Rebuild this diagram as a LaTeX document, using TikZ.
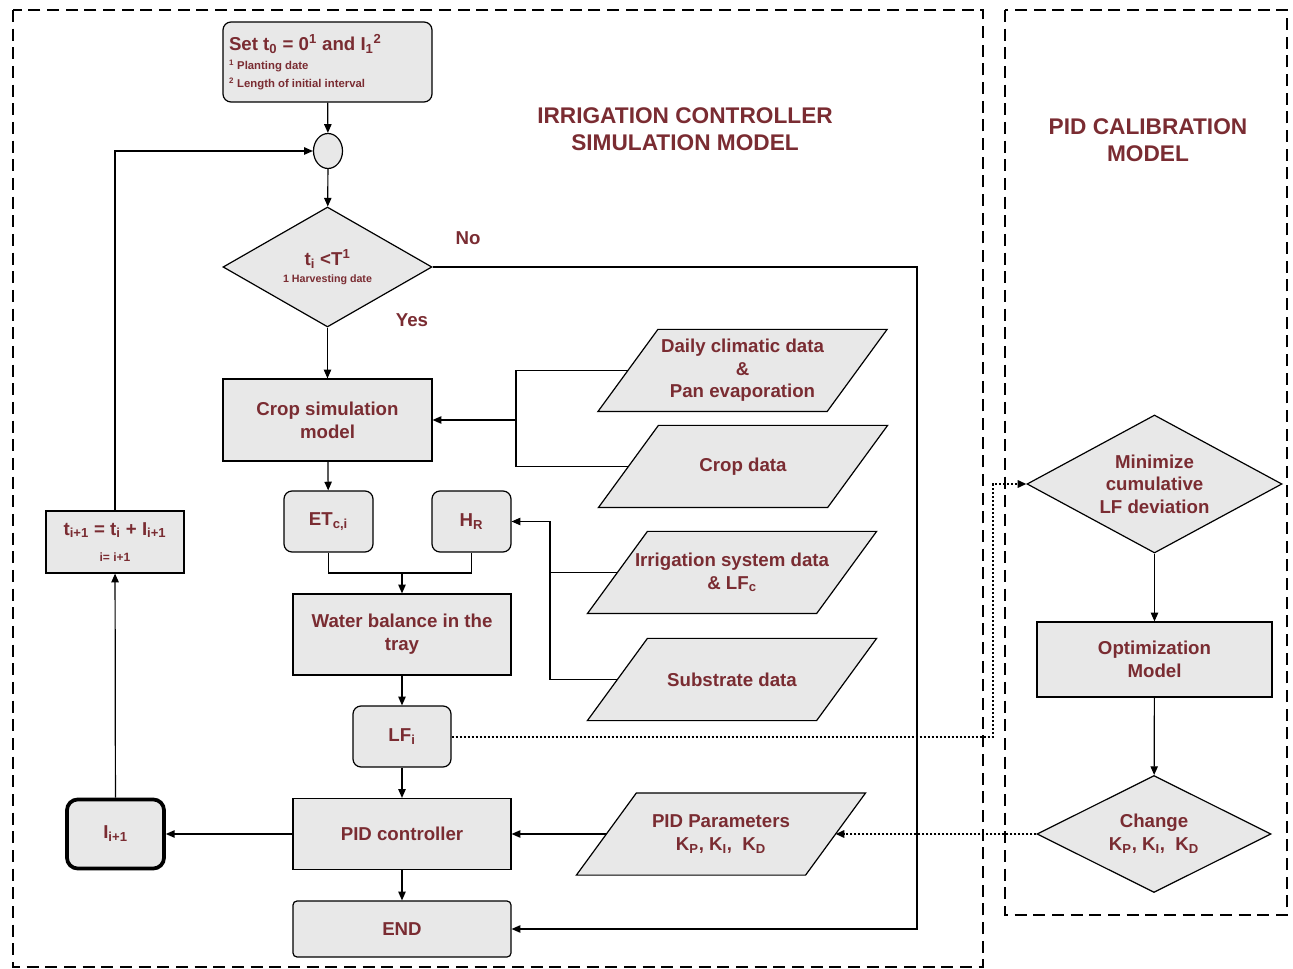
\documentclass[tikz,border=0pt]{standalone}
\usepackage{fontspec}
\setmainfont{Liberation Sans}
\usetikzlibrary{shapes.geometric,arrows.meta,backgrounds}
\definecolor{txtred}{RGB}{122,44,50}
\definecolor{boxgray}{RGB}{232,232,232}
\tikzset{
  sz/.style 2 args={minimum width=#1*0.75pt,minimum height=#2*0.75pt},
  base/.style={draw,fill=boxgray,text=txtred,font=\bfseries\fontsize{14}{17}\selectfont,align=center,inner sep=1pt,line width=0.9pt},
  rbox/.style={base,rectangle,rounded corners=6pt},
  sbox/.style={base,rectangle},
  dec/.style={base,diamond,inner sep=0pt},
  data/.style={base,draw=none,fill=none,rectangle,sz={228}{81}},
  dataframe/.style={draw,fill=boxgray,line width=0.9pt},
  ttl/.style={text=txtred,font=\bfseries\fontsize{17}{20.5}\selectfont,align=center},
  lbl/.style={text=txtred,font=\bfseries\fontsize{14}{16}\selectfont},
  arr/.style={line width=0.9pt,-{Triangle[length=6.5pt,width=5.5pt]}},
  dotarr/.style={arr,line width=1.5pt,dash pattern=on 1.5pt off 1.5pt},
  frame/.style={line width=2pt,dash pattern=on 9pt off 5pt}
}
\begin{document}
\begin{tikzpicture}[x=0.75pt,y=-0.75pt]
\useasboundingbox (0,0) rectangle (1293,969);
\draw[frame] (13,10) rectangle (983,967);
\draw[frame] (1005,10) rectangle (1287,915);
\node[ttl] (ttlsim) at (685,129) {IRRIGATION CONTROLLER\\SIMULATION MODEL};
\node[ttl] (ttlpid) at (1148,140) {PID CALIBRATION\\MODEL};

\node[rbox,sz={209}{80},text width=197*0.75pt,align=flush left] (start) at (327.5,62)
  {Set t\textsubscript{0} = 0\textsuperscript{1} and I\textsubscript{1}\textsuperscript{2}\\[-3pt]
   {\fontsize{8.5}{10}\selectfont\textsuperscript{1} Planting date}\\[-3.5pt]
   {\fontsize{8.5}{10}\selectfont\textsuperscript{2} Length of initial interval}};
\node[draw,ellipse,fill=boxgray,line width=0.9pt,inner sep=0pt,sz={29}{35}] (join) at (328,151) {};
\node[dec,sz={209}{120},shape aspect=1.74] (check) at (327.5,267) {t\textsubscript{i} <T\textsuperscript{1}\\[-4pt]{\fontsize{8}{9.5}\selectfont 1 Harvesting date}};
\node[lbl] (no) at (468,238) {No};
\node[lbl] (yes) at (412,320) {Yes};
\node[sbox,sz={209}{82}] (cropsim) at (327.5,420) {Crop simulation\\model};
\node[rbox,sz={89}{61}] (etc) at (328.5,521.5) {ET\textsubscript{c,i}};
\node[rbox,sz={79}{61}] (hr) at (471.5,521.5) {H\textsubscript{R}};
\node[sbox,sz={218}{81}] (water) at (402,634.5) {Water balance in the\\tray};
\node[rbox,sz={98}{61}] (lf) at (402,736.5) {LF\textsubscript{i}};
\node[sbox,sz={218}{71}] (pid) at (402,834) {PID controller};
\node[rbox,rounded corners=3pt,sz={218}{56}] (endbox) at (402,929) {END};
\node[rbox,line width=2.8pt,rounded corners=8pt,sz={97}{69}] (ibox) at (115.5,834) {I\textsubscript{i+1}};
\node[sbox,sz={138}{62}] (tbox) at (115,542) {t\textsubscript{i+1} = t\textsubscript{i} + I\textsubscript{i+1}\\[3pt]{\fontsize{9}{10}\selectfont i= i+1}};

\node[data] (climate) at (742.5,370.5) {Daily climatic data\\\&\\Pan evaporation};
\node[data] (cropdata) at (743,466.5) {Crop data};
\node[data] (irrig) at (732,572.5) {Irrigation system data\\\& LF\textsubscript{c}};
\node[data] (subst) at (732,679.5) {Substrate data};
\node[data] (pidpar) at (721,834) {PID Parameters\\K\textsubscript{P}, K\textsubscript{I}, \ K\textsubscript{D}};
\begin{pgfonlayer}{background}
\foreach \n in {climate,cropdata,irrig,subst,pidpar}
  \draw[dataframe] ([xshift=-22.5pt]\n.south west) -- ([xshift=-22.5pt]\n.south east)
    -- ([xshift=22.5pt]\n.north east) -- ([xshift=22.5pt]\n.north west) -- cycle;
\end{pgfonlayer}

\node[dec,sz={255}{138},shape aspect=1.85] (minimize) at (1154.5,484) {Minimize\\cumulative\\LF deviation};
\node[sbox,sz={235}{75}] (optim) at (1154.5,659.5) {Optimization\\Model};
\node[dec,sz={234}{117},shape aspect=2] (change) at (1154,834) {Change\\K\textsubscript{P}, K\textsubscript{I}, \ K\textsubscript{D}};

\coordinate (noturn) at (917,267);
\coordinate (merge1) at (516,420);
\coordinate (merge2) at (402,573);
\coordinate (merge3) at (550,521.5);
\coordinate (dotturn) at (993,484);

\draw[arr] (start) -- (join);
\draw[arr] (join) -- (check);
\draw[arr] (check) -- (cropsim);
\draw[arr] (check.east) -- (noturn) |- (endbox);
\draw[line width=0.9pt] (climate.west) -| (merge1) |- (cropdata.west);
\draw[arr] (merge1) -- (cropsim);
\draw[arr] (cropsim) -- (etc);
\draw[line width=0.9pt] (etc) |- (merge2) -| (hr);
\draw[arr] (merge2) -- (water);
\draw[line width=0.9pt] (subst.west) -| (merge3);
\draw[arr] (irrig.west) -| (merge3) -- (hr);
\draw[arr] (water) -- (lf);
\draw[arr] (lf) -- (pid);
\draw[arr] (pid) -- (endbox);
\draw[arr] (pidpar) -- (pid);
\draw[arr] (pid) -- (ibox);
\draw[arr] (ibox) -- (tbox);
\draw[arr] (tbox) |- (join);
\draw[dotarr] (lf) -| (dotturn) -- (minimize);
\draw[arr] (minimize) -- (optim);
\draw[arr] (optim) -- (change);
\draw[dotarr] (change) -- (pidpar);
\end{tikzpicture}
\end{document}
